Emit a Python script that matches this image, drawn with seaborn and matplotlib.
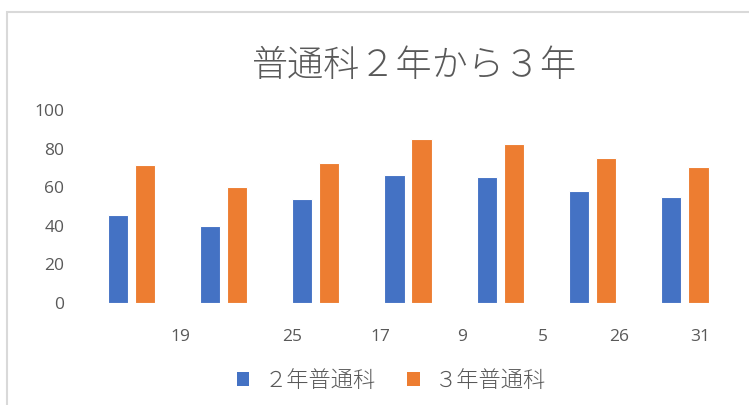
import matplotlib
matplotlib.use("Agg")
import matplotlib.pyplot as plt
import matplotlib.transforms as mtransforms
from matplotlib.patches import Rectangle, Patch
import seaborn as sns
import pandas as pd

categories = ["19", "25", "17", "9", "5", "26", "31"]
series_names = ["２年普通科", "３年普通科"]
year2 = [45.5, 40, 54, 66.5, 65.5, 58, 55]
year3 = [71.5, 60, 72.5, 85, 82.5, 75, 70.5]
title = "普通科２年から３年"
yticks = [0, 20, 40, 60, 80, 100]

# label offsets in pixels (layout only)
label_dx = [49, 69, 65, 54, 43, 27, 15]

sns.set_theme(style="white")
plt.rcParams['font.family'] = ['Noto Sans CJK JP', 'DejaVu Sans']

df = pd.DataFrame({
    "cat": categories * 2,
    "val": year2 + year3,
    "series": [series_names[0]] * len(categories) + [series_names[1]] * len(categories),
})

fig = plt.figure(figsize=(7.49, 4.05), dpi=100)
ax = fig.add_axes([85.1 / 749, (405 - 303) / 405, (731 - 85.1) / 749, (303 - 110) / 405])

palette = {series_names[0]: "#4472C4", series_names[1]: "#ED7D31"}
sns.barplot(data=df, x="cat", y="val", hue="series", order=categories,
            hue_order=series_names, palette=palette, width=0.587, gap=0.25,
            edgecolor="white", linewidth=0.8, saturation=1, ax=ax, legend=False)

ax.set_ylim(0, 100)
ax.set_yticks(yticks)
ax.set_yticklabels([str(v) for v in yticks])
for s in ax.spines.values():
    s.set_visible(False)
ax.set_xlabel("")
ax.set_ylabel("")
ax.tick_params(axis="y", length=0, pad=15, labelsize=12.5, labelcolor="#595959")
ax.tick_params(axis="x", length=0, pad=19, labelsize=12.5, labelcolor="#595959")
for lab, dx in zip(ax.get_xticklabels(), label_dx):
    lab.set_fontfamily(['Open Sans', 'DejaVu Sans'])
    lab.set_transform(lab.get_transform() + mtransforms.ScaledTranslation(dx / 100, 0, fig.dpi_scale_trans))
for lab in ax.get_yticklabels():
    lab.set_fontfamily(['Open Sans', 'DejaVu Sans'])
ax.grid(False)

fig.text(0.554, 1 - 66 / 405, title, ha="center", va="center",
         fontsize=26, color="#595959", fontweight="light")

handles = [Patch(facecolor=palette[n], edgecolor="none", label=n) for n in series_names]
fig.legend(handles=handles, loc="center", bbox_to_anchor=(0.523, 1 - 381 / 405),
           ncol=2, frameon=False, fontsize=16, handlelength=0.55, handleheight=0.55,
           handletextpad=0.7, columnspacing=1.4, labelcolor="#595959",
           prop={'family': ['Noto Sans CJK JP', 'DejaVu Sans'], 'size': 16, 'weight': 'light'})

fig.patches.append(Rectangle((7 / 749, -0.1), 1.2, (405 - 12) / 405 + 0.1,
                             transform=fig.transFigure, fill=False,
                             edgecolor="#D9D9D9", linewidth=1.5))

fig.savefig("out.png", dpi=100)
